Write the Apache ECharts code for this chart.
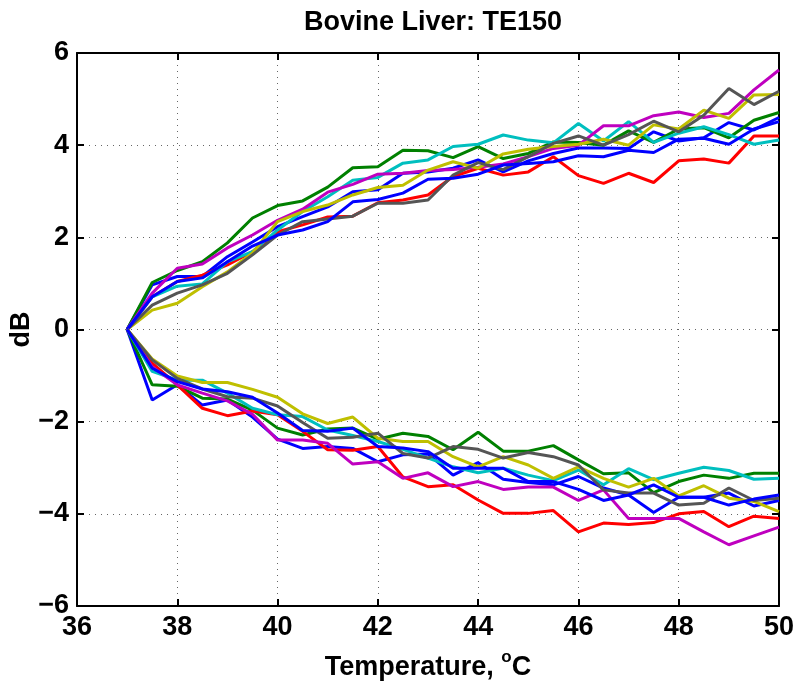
<!DOCTYPE html>
<html>
<head>
<meta charset="utf-8">
<title>Bovine Liver: TE150</title>
<script src="https://cdn.jsdelivr.net/npm/echarts@6/dist/echarts.min.js"></script>
<style>
html, body { margin: 0; padding: 0; background: #fff; }
#main { width: 800px; height: 687px; }
</style>
</head>
<body>
<div id="main"></div>
<script>
// temperatures (x), every 0.5 degC from 37 to 50
var temps = [37, 37.5, 38, 38.5, 39, 39.5, 40, 40.5, 41, 41.5, 42, 42.5, 43, 43.5,
             44, 44.5, 45, 45.5, 46, 46.5, 47, 47.5, 48, 48.5, 49, 49.5, 50];

// upper branch (dB)
var upBlue1   = [0, 0.97, 1.15, 1.15, 1.58, 1.90, 2.23, 2.45, 2.66, 2.99, 3.03, 3.39, 3.42, 3.50, 3.68, 3.42, 3.66, 3.82, 3.94, 3.94, 3.93, 4.29, 4.09, 4.16, 4.49, 4.33, 4.60];
var upGreen   = [0, 1.02, 1.28, 1.47, 1.88, 2.42, 2.69, 2.79, 3.09, 3.51, 3.53, 3.89, 3.88, 3.73, 3.97, 3.71, 3.82, 4.07, 4.06, 4.00, 4.31, 4.06, 4.35, 4.38, 4.16, 4.54, 4.71];
var upRed     = [0, 0.71, 1.04, 1.18, 1.40, 1.69, 2.12, 2.27, 2.44, 2.46, 2.75, 2.81, 2.92, 3.32, 3.50, 3.35, 3.42, 3.75, 3.34, 3.17, 3.39, 3.19, 3.66, 3.70, 3.61, 4.20, 4.20];
var upCyan    = [0, 0.71, 0.94, 0.99, 1.47, 1.69, 2.16, 2.56, 2.88, 3.24, 3.30, 3.61, 3.68, 3.97, 4.02, 4.22, 4.11, 4.05, 4.47, 4.09, 4.51, 4.06, 4.26, 4.40, 4.23, 4.02, 4.11];
var upMagenta = [0, 0.79, 1.33, 1.42, 1.77, 2.05, 2.37, 2.61, 2.98, 3.15, 3.37, 3.39, 3.45, 3.47, 3.52, 3.59, 3.75, 3.93, 4.00, 4.42, 4.42, 4.64, 4.72, 4.60, 4.69, 5.20, 5.63];
var upYellow  = [0, 0.42, 0.57, 0.93, 1.25, 1.66, 2.34, 2.56, 2.70, 2.92, 3.08, 3.13, 3.46, 3.64, 3.50, 3.81, 3.91, 3.97, 4.02, 4.13, 4.00, 4.44, 4.35, 4.76, 4.58, 5.09, 5.10];
var upGray    = [0, 0.53, 0.79, 0.97, 1.22, 1.62, 2.05, 2.34, 2.40, 2.46, 2.74, 2.74, 2.81, 3.35, 3.62, 3.47, 3.75, 4.04, 4.20, 4.00, 4.23, 4.52, 4.29, 4.65, 5.23, 4.88, 5.17];
var upBlue2   = [0, 0.71, 1.04, 1.12, 1.47, 1.81, 2.05, 2.16, 2.34, 2.77, 2.82, 2.96, 3.26, 3.28, 3.37, 3.57, 3.60, 3.64, 3.77, 3.75, 3.89, 3.84, 4.13, 4.15, 4.02, 4.35, 4.51];

// lower branch (dB)
var loBlue1   = [0, -1.53, -1.20, -1.64, -1.53, -1.90, -2.38, -2.58, -2.54, -2.58, -2.87, -2.72, -2.70, -3.16, -2.89, -3.25, -3.32, -3.37, -3.19, -3.44, -3.59, -3.97, -3.64, -3.64, -3.55, -3.83, -3.71];
var loGreen   = [0, -1.20, -1.23, -1.49, -1.51, -1.75, -2.14, -2.29, -2.16, -2.14, -2.38, -2.25, -2.32, -2.61, -2.23, -2.64, -2.64, -2.52, -2.83, -3.13, -3.11, -3.54, -3.30, -3.16, -3.23, -3.12, -3.12];
var loRed     = [0, -0.73, -1.20, -1.71, -1.87, -1.77, -1.85, -2.21, -2.61, -2.62, -2.54, -3.20, -3.41, -3.37, -3.70, -3.99, -3.99, -3.93, -4.39, -4.20, -4.23, -4.19, -4.00, -3.95, -4.28, -4.05, -4.10];
var loCyan    = [0, -0.91, -1.10, -1.10, -1.38, -1.71, -1.85, -1.89, -2.18, -2.30, -2.43, -2.60, -2.79, -2.98, -3.11, -3.01, -3.16, -3.28, -3.05, -3.37, -3.02, -3.26, -3.12, -2.99, -3.06, -3.25, -3.23];
var loMagenta = [0, -0.81, -1.20, -1.38, -1.55, -1.84, -2.40, -2.40, -2.47, -2.92, -2.87, -3.23, -3.11, -3.41, -3.30, -3.47, -3.42, -3.42, -3.71, -3.48, -4.10, -4.10, -4.10, -4.39, -4.67, -4.48, -4.29];
var loYellow  = [0, -0.64, -1.01, -1.15, -1.15, -1.30, -1.47, -1.83, -2.04, -1.90, -2.36, -2.43, -2.43, -2.76, -2.98, -2.76, -2.94, -3.23, -2.98, -3.23, -3.42, -3.23, -3.61, -3.39, -3.66, -3.73, -3.95];
var loGray    = [0, -0.66, -1.06, -1.29, -1.46, -1.49, -1.66, -2.02, -2.36, -2.34, -2.25, -2.69, -2.79, -2.54, -2.60, -2.79, -2.67, -2.76, -2.94, -3.48, -3.55, -3.55, -3.81, -3.77, -3.44, -3.71, -3.66];
var loBlue2   = [0, -0.84, -1.13, -1.29, -1.35, -1.47, -1.81, -2.19, -2.21, -2.14, -2.54, -2.57, -2.65, -3.01, -3.01, -3.01, -3.30, -3.30, -3.47, -3.71, -3.59, -3.37, -3.64, -3.64, -3.81, -3.68, -3.59];

var xTicks = [36, 38, 40, 42, 44, 46, 48, 50];
var yTicks = [-6, -4, -2, 0, 2, 4, 6];

var upper = [upBlue1, upGreen, upRed, upCyan, upMagenta, upYellow, upGray, upBlue2];
var lower = [loBlue1, loGreen, loRed, loCyan, loMagenta, loYellow, loGray, loBlue2];
// matlab line order: b g r c m y k b
var colors = ['#0000ff', '#008000', '#ff0000', '#00bfbf', '#bf00bf', '#bfbf00', '#555555', '#0000ff'];

var font = 'Liberation Sans, Arial, Helvetica, sans-serif';

var chartDom = document.getElementById('main');
var myChart = echarts.init(chartDom, null, { renderer: 'canvas' });

function makeSeries(arr, color) {
    return {
        type: 'line',
        symbol: 'none',
        showSymbol: false,
        animation: false,
        lineStyle: { color: color, width: 3 },
        data: temps.map(function (t, i) { return [t, arr[i]]; })
    };
}

var series = [];
for (var i = 0; i < upper.length; i++) {
    series.push(makeSeries(upper[i], colors[i]));
}
for (var j = 0; j < lower.length; j++) {
    series.push(makeSeries(lower[j], colors[j]));
}

var gridLine = { show: true, lineStyle: { color: '#666', width: 1, type: [1, 5] } };
var boxLine = { show: true, onZero: false, lineStyle: { color: '#000', width: 2 } };

var option = {
    backgroundColor: '#fff',
    animation: false,
    title: {
        text: 'Bovine Liver: TE150',
        left: 428,
        textAlign: 'center',
        top: 4,
        textStyle: { fontFamily: font, fontWeight: 'bold', fontSize: 27, color: '#000' }
    },
    grid: { left: 77, right: 21, top: 53, bottom: 81, outerBoundsMode: 'none', containLabel: false },
    xAxis: [
        {
            type: 'value',
            min: 36,
            max: 50,
            interval: 2,
            position: 'bottom',
            name: 'Temperature, {sup|o}C',
            nameLocation: 'middle',
            nameGap: 43,
            nameMoveOverlap: false,
            nameTextStyle: {
                fontFamily: font, fontWeight: 'bold', fontSize: 27, color: '#000',
                rich: {
                    sup: { fontFamily: font, fontWeight: 'bold', fontSize: 17, color: '#000', padding: [0, 0, 20, 0] }
                }
            },
            axisLine: boxLine,
            axisTick: { show: true, inside: true, length: 7, lineStyle: { color: '#000', width: 2 } },
            axisLabel: {
                margin: 8,
                fontFamily: font, fontWeight: 'bold', fontSize: 27, color: '#000',
                formatter: function (v) { return xTicks.indexOf(v) >= 0 ? String(v) : ''; }
            },
            splitLine: gridLine
        },
        {
            type: 'value',
            min: 36,
            max: 50,
            interval: 2,
            position: 'top',
            axisLine: boxLine,
            axisTick: { show: true, inside: true, length: 7, lineStyle: { color: '#000', width: 2 } },
            axisLabel: { show: false },
            splitLine: { show: false }
        }
    ],
    yAxis: [
        {
            type: 'value',
            min: -6,
            max: 6,
            interval: 2,
            position: 'left',
            name: 'dB',
            nameLocation: 'middle',
            nameGap: 42,
            nameMoveOverlap: false,
            nameTextStyle: { fontFamily: font, fontWeight: 'bold', fontSize: 27, color: '#000' },
            axisLine: boxLine,
            axisTick: { show: true, inside: true, length: 7, lineStyle: { color: '#000', width: 2 } },
            axisLabel: {
                margin: 8,
                fontFamily: font, fontWeight: 'bold', fontSize: 27, color: '#000',
                formatter: function (v) {
                    if (yTicks.indexOf(v) < 0) return '';
                    return String(v).replace('-', '\u2212');
                }
            },
            splitLine: gridLine
        },
        {
            type: 'value',
            min: -6,
            max: 6,
            interval: 2,
            position: 'right',
            axisLine: boxLine,
            axisTick: { show: true, inside: true, length: 7, lineStyle: { color: '#000', width: 2 } },
            axisLabel: { show: false },
            splitLine: { show: false }
        }
    ],
    series: series
};

myChart.setOption(option);
</script>
</body>
</html>
